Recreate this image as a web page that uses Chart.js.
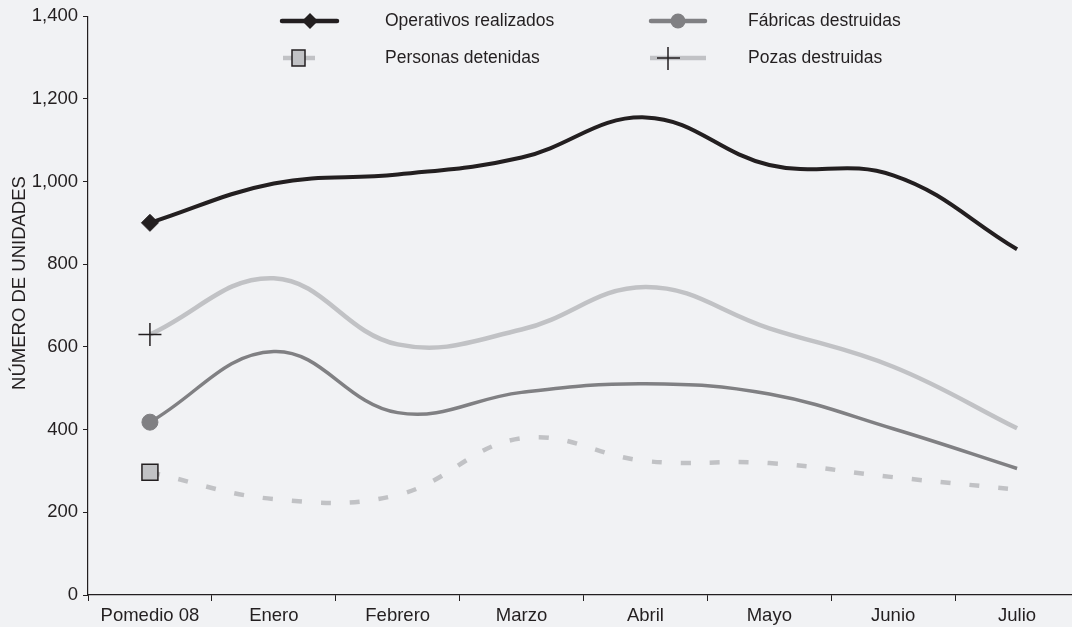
<!DOCTYPE html>
<html>
<head>
<meta charset="utf-8">
<script src="https://cdn.jsdelivr.net/npm/chart.js@4/dist/chart.umd.min.js"></script>
<style>
  html, body { margin: 0; padding: 0; background: #f1f2f4; overflow: hidden; }
  #wrap { width: 1092px; height: 627px; }
</style>
</head>
<body>
<div id="wrap"><canvas id="c" width="1092" height="627"></canvas></div>
<script>
const categories = ['Pomedio 08', 'Enero', 'Febrero', 'Marzo', 'Abril', 'Mayo', 'Junio', 'Julio'];
const operativos = [900, 995, 1017, 1058, 1155, 1040, 1015, 836];
const fabricas   = [418, 589, 441, 490, 511, 486, 402, 306];
const personas   = [297, 232, 242, 379, 324, 319, 285, 255];
const pozas      = [630, 766, 606, 642, 745, 645, 552, 403];
const seriesNames = ['Operativos realizados', 'Fábricas destruidas', 'Personas detenidas', 'Pozas destruidas'];
const yTicks = [0, 200, 400, 600, 800, 1000, 1200, 1400];
const yTitle = 'NÚMERO DE UNIDADES';

const DARK = '#231f20';
const MID = '#808083';
const LIGHT = '#c1c2c5';
const FONT = "'Liberation Sans', Arial, sans-serif";

const firstOnly = (r) => (ctx) => ctx.dataIndex === 0 ? r : 0;

const bgPlugin = {
  id: 'bg',
  beforeDraw(chart) {
    const c = chart.ctx;
    c.save();
    c.fillStyle = '#f1f2f4';
    c.fillRect(0, 0, chart.width, chart.height);
    c.restore();
  }
};

const legendPlugin = {
  id: 'customLegend',
  afterDraw(chart) {
    const c = chart.ctx;
    c.save();
    c.font = '17.5px ' + FONT;
    c.fillStyle = DARK;
    c.textBaseline = 'middle';
    c.textAlign = 'left';
    const row1 = 21, row2 = 58;
    // Operativos
    c.lineCap = 'round';
    c.strokeStyle = DARK; c.lineWidth = 4.5;
    c.beginPath(); c.moveTo(282, row1); c.lineTo(337, row1); c.stroke();
    c.fillStyle = DARK;
    c.beginPath(); c.moveTo(310, row1 - 8); c.lineTo(318, row1); c.lineTo(310, row1 + 8); c.lineTo(302, row1); c.closePath(); c.fill();
    c.fillText(seriesNames[0], 385, row1);
    // Fabricas
    c.strokeStyle = MID; c.lineWidth = 4.5;
    c.beginPath(); c.moveTo(651, row1); c.lineTo(705, row1); c.stroke();
    c.fillStyle = MID;
    c.beginPath(); c.arc(678, row1, 7.5, 0, Math.PI * 2); c.fill();
    c.fillStyle = DARK;
    c.fillText(seriesNames[1], 748, row1);
    // Personas
    c.lineCap = 'butt';
    c.strokeStyle = LIGHT; c.lineWidth = 4.5;
    c.beginPath(); c.moveTo(283, row2); c.lineTo(293, row2); c.moveTo(305, row2); c.lineTo(315, row2); c.stroke();
    c.fillStyle = LIGHT; c.strokeStyle = DARK; c.lineWidth = 1.5;
    c.fillRect(292, row2 - 8, 13, 16); c.strokeRect(292, row2 - 8, 13, 16);
    c.fillStyle = DARK;
    c.fillText(seriesNames[2], 385, row2);
    // Pozas
    c.strokeStyle = LIGHT; c.lineWidth = 4.5;
    c.beginPath(); c.moveTo(650, row2); c.lineTo(706, row2); c.stroke();
    c.strokeStyle = DARK; c.lineWidth = 1.5;
    c.beginPath(); c.moveTo(657, row2); c.lineTo(680, row2); c.moveTo(668, row2 - 11); c.lineTo(668, row2 + 12); c.stroke();
    c.fillStyle = DARK;
    c.fillText(seriesNames[3], 748, row2);
    // Y title
    c.translate(20, 283);
    c.rotate(-Math.PI / 2);
    c.textAlign = 'center';
    c.font = '18.5px ' + FONT;
    c.fillText(yTitle, 0, 0);
    c.restore();
  }
};

new Chart(document.getElementById('c'), {
  type: 'line',
  data: {
    labels: categories,
    datasets: [
      { label: seriesNames[0], data: operativos, borderColor: DARK, borderWidth: 4, tension: 0.4,
        pointStyle: 'rectRot', pointRadius: firstOnly(8.5), pointBackgroundColor: DARK, pointBorderColor: DARK, pointBorderWidth: 1 },
      { label: seriesNames[1], data: fabricas, borderColor: MID, borderWidth: 3.5, tension: 0.4,
        pointStyle: 'circle', pointRadius: firstOnly(8), pointBackgroundColor: MID, pointBorderColor: MID, pointBorderWidth: 1 },
      { label: seriesNames[2], data: personas, borderColor: LIGHT, borderWidth: 4.5, borderDash: [10, 19], tension: 0.4,
        pointStyle: 'rect', pointRadius: firstOnly(11.3), pointBackgroundColor: LIGHT, pointBorderColor: DARK, pointBorderWidth: 1.5 },
      { label: seriesNames[3], data: pozas, borderColor: LIGHT, borderWidth: 4.5, tension: 0.4,
        pointStyle: 'cross', pointRadius: firstOnly(11.5), pointBackgroundColor: DARK, pointBorderColor: DARK, pointBorderWidth: 1.5 }
    ]
  },
  options: {
    responsive: false,
    animation: false,
    devicePixelRatio: 1,
    layout: { padding: { top: 15, right: 1, left: 0, bottom: 0 } },
    plugins: { legend: { display: false }, tooltip: { enabled: false } },
    elements: { point: { hoverRadius: 0 } },
    scales: {
      x: {
        offset: true,
        grid: { offset: true, drawOnChartArea: false, drawTicks: true, tickLength: 6, color: DARK, lineWidth: 1 },
        border: { display: true, color: DARK, width: 1.2 },
        ticks: { color: DARK, font: { family: FONT, size: 18.5 }, padding: 4, maxRotation: 0, autoSkip: false },
        afterFit(s) { s.height = 32; }
      },
      y: {
        min: 0, max: 1400,
        afterBuildTicks(s) { s.ticks = yTicks.map(v => ({ value: v })); },
        grid: { drawOnChartArea: false, drawTicks: true, tickLength: 5, color: DARK, lineWidth: 1 },
        border: { display: true, color: DARK, width: 1.2 },
        ticks: { color: DARK, font: { family: FONT, size: 18.5 }, padding: 5,
                 callback: (v) => Number(v).toLocaleString('en-US') },
        afterFit(s) { s.width = 88; }
      }
    }
  },
  plugins: [bgPlugin, legendPlugin]
});
</script>
</body>
</html>
